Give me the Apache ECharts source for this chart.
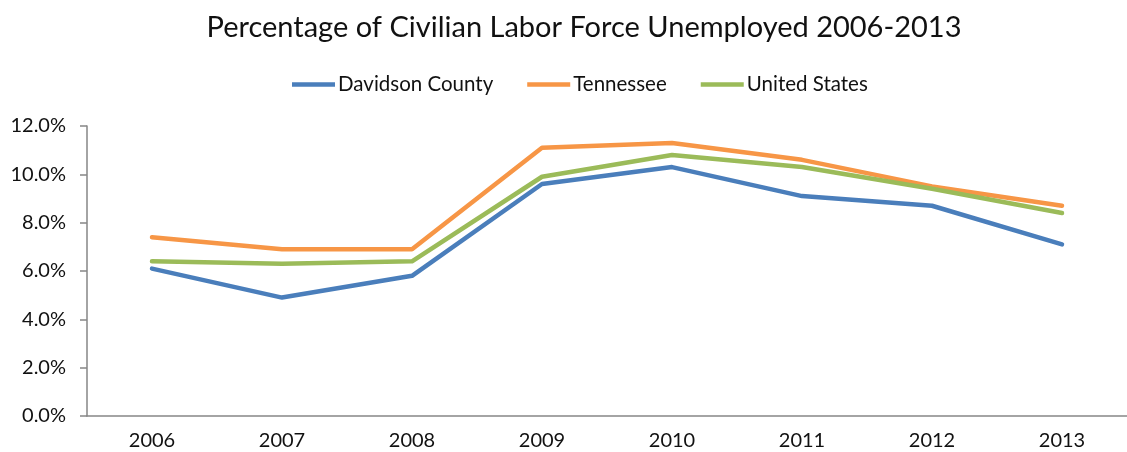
<!DOCTYPE html>
<html>
<head>
<meta charset="utf-8">
<script src="https://cdn.jsdelivr.net/npm/echarts@6/dist/echarts.min.js"></script>
<style>
html,body{margin:0;padding:0;background:#fff;}
#chart{width:1127px;height:452px;}
</style>
</head>
<body>
<div id="chart"></div>
<script>
const years = ['2006','2007','2008','2009','2010','2011','2012','2013'];
const davidson = [6.1, 4.9, 5.8, 9.6, 10.3, 9.1, 8.7, 7.1];
const tennessee = [7.4, 6.9, 6.9, 11.1, 11.3, 10.6, 9.5, 8.7];
const unitedStates = [6.4, 6.3, 6.4, 9.9, 10.8, 10.3, 9.4, 8.4];
const yTicks = [0, 2, 4, 6, 8, 10, 12];

const font = 'Lato, "Open Sans", sans-serif';
const chart = echarts.init(document.getElementById('chart'));

function line(name, data, color) {
  return {
    name, type: 'line', data,
    symbol: 'none',
    lineStyle: { width: 4.5, color, cap: 'round', join: 'round' },
    itemStyle: { color },
    animation: false
  };
}

chart.setOption({
  animation: false,
  title: {
    text: 'Percentage of Civilian Labor Force Unemployed 2006-2013',
    left: 579, top: 8, textAlign: 'center',
    textStyle: { fontFamily: font, fontSize: 29, fontWeight: 'normal', color: '#111' }
  },
  legend: {
    left: 287, top: 69,
    itemWidth: 43, itemHeight: 4.5, itemGap: 34,
    icon: 'rect',
    textStyle: { fontFamily: font, fontSize: 20.5, color: '#111', padding: [0, 0, 0, -2] },
    data: ['Davidson County', 'Tennessee', 'United States']
  },
  grid: { left: 87, right: -8, top: 126, bottom: 36, containLabel: false },
  xAxis: {
    type: 'category', data: years, boundaryGap: true,
    axisLine: { lineStyle: { color: '#868686', width: 1.5 } },
    axisTick: { show: false },
    axisLabel: { fontFamily: font, fontSize: 20, color: '#111', margin: 15 }
  },
  yAxis: {
    type: 'value', min: yTicks[0], max: yTicks[yTicks.length - 1], interval: 2,
    axisLine: { show: true, lineStyle: { color: '#868686', width: 1.5 } },
    axisTick: { show: true, length: 7, lineStyle: { color: '#868686', width: 1.5 } },
    splitLine: { show: false },
    axisLabel: {
      fontFamily: font, fontSize: 20, color: '#111', margin: 21,
      formatter: v => v.toFixed(1) + '%'
    }
  },
  series: [
    line('Davidson County', davidson, '#4a7ebb'),
    line('Tennessee', tennessee, '#f79646'),
    line('United States', unitedStates, '#9bbb59')
  ]
});
</script>
</body>
</html>
